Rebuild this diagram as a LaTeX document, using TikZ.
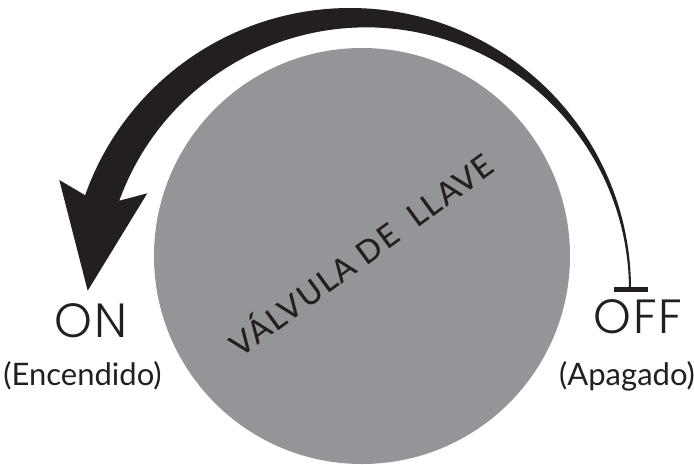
\documentclass[tikz,border=0pt]{standalone}
\usepackage{fontspec}
\setmainfont{Lato}
\newfontfamily\thinfont{Poppins Light}
\newfontfamily\midfont{Lato Medium}
\definecolor{valvegray}{RGB}{147,149,152}
\definecolor{inkblack}{RGB}{35,31,32}
\tikzset{
  onoff/.style={font=\thinfont\fontsize{48}{48}\selectfont\addfontfeatures{LetterSpace=4}, text=inkblack, anchor=base, inner sep=0pt},
  sublabel/.style={font=\fontsize{31}{31}\selectfont, text=inkblack, anchor=base, inner sep=0pt},
  valvetext/.style={font=\midfont\fontsize{31.5}{31.5}\selectfont\addfontfeatures{LetterSpace=5}, text=inkblack, inner sep=0pt}
}
\begin{document}
\begin{tikzpicture}[x=1pt,y=-1pt]
\useasboundingbox (0,0) rectangle (694,464);
\clip (0,0) rectangle (694,464);
% valve body
\fill[valvegray] (362,256) circle[radius=208];
% curved arrow from OFF to ON
\fill[inkblack] (631,289) arc[start angle=0,end angle=-160.5,radius=281]
  -- (59.3,180) -- (87.7,290.7) -- (147.3,193.3) -- (119.3,200.7)
  arc[start angle=-160.1,end angle=0,radius=262.7] -- cycle;
% bar over OFF
\fill[inkblack] (614,286.5) rectangle (648,292);
% labels
\node[onoff] (on) at (91,337) {ON};
\node[onoff] (off) at (638,333) {OFF};
\node[sublabel] (onsub) at (82.5,385) {(Encendido)};
\node[sublabel] (offsub) at (627,385) {(Apagado)};
\node[valvetext, rotate=36.2] (valve) at (360,253) {VÁLVULA DE\ \ LLAVE};
\end{tikzpicture}
\end{document}
